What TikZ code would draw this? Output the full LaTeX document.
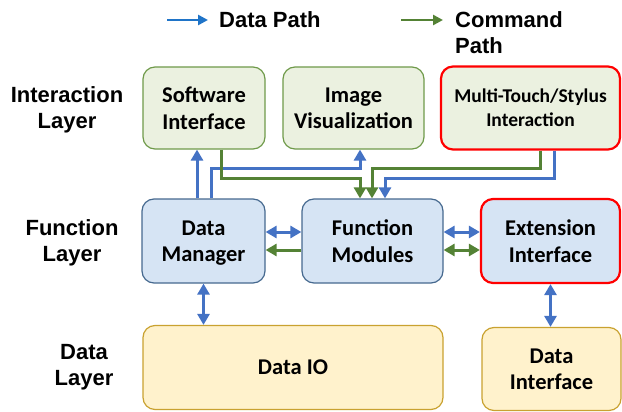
\documentclass[tikz,border=0pt]{standalone}
\usepackage{fontspec}
\setmainfont{Carlito}
\newfontfamily\arialfont{Liberation Sans}
\usetikzlibrary{arrows.meta,calc}
\definecolor{dataline}{HTML}{4472C4}
\definecolor{legblue}{HTML}{1F74C8}
\definecolor{cmdline}{HTML}{548235}
\definecolor{gfill}{HTML}{EBF1E0}
\definecolor{gdraw}{HTML}{6F9A4A}
\definecolor{bfill}{HTML}{D6E4F4}
\definecolor{bdraw}{HTML}{46698F}
\definecolor{yfill}{HTML}{FFF2CC}
\definecolor{ydraw}{HTML}{C9A230}
\definecolor{redb}{HTML}{FF0000}
\tikzset{
  box/.style={draw, rounded corners=12pt, line width=1.2pt, align=center,
    inner sep=0pt, text depth=-2pt, font=\fontsize{22.5}{26.5}\selectfont\bfseries},
  gbox/.style={box, fill=gfill, draw=gdraw},
  bbox/.style={box, fill=bfill, draw=bdraw},
  ybox/.style={box, fill=yfill, draw=ydraw},
  redbox/.style={draw=redb, line width=2.2pt},
  tip/.tip={Triangle[length=11pt,width=12pt]},
  dpath/.style={draw=dataline, line width=3pt, -tip},
  dpath2/.style={draw=dataline, line width=3pt, tip-tip},
  cpath/.style={draw=cmdline, line width=3pt, -tip},
  cpath2/.style={draw=cmdline, line width=3pt, tip-tip},
  layer/.style={font=\arialfont\fontsize{22}{26.5}\selectfont\bfseries, align=center},
  legtext/.style={font=\arialfont\fontsize{22}{26.5}\selectfont\bfseries, align=left},
}
\begin{document}
\begin{tikzpicture}[x=1pt,y=-1pt]
\useasboundingbox (0,0) rectangle (622,412);
% legend
\coordinate (l1a) at (167,20);
\coordinate (l1b) at (208,20);
\coordinate (l2a) at (401,20);
\coordinate (l2b) at (443,20);
\draw[draw=legblue, line width=2.6pt, -{Triangle[length=10pt,width=10pt]}] (l1a) -- (l1b);
\draw[draw=cmdline, line width=2.6pt, -{Triangle[length=10pt,width=10pt]}] (l2a) -- (l2b);
\node[legtext, anchor=west, inner sep=0pt] (ldata) at (219,20) {Data Path};
\node[legtext, anchor=north west, inner sep=0pt] (lcmd) at (455,11) {Command\\Path};
% layer labels
\node[layer] (lint) at (67,110) {Interaction\\Layer};
\node[layer] (lfun) at (72,243) {Function\\Layer};
\node[layer] (ldat) at (84,367) {Data\\Layer};
% boxes
\node[gbox, minimum width=122pt, minimum height=82pt] (SI) at (204,108) {Software\\Interface};
\node[gbox, minimum width=141pt, minimum height=82pt] (IV) at (353.5,108) {Image\\Visualization};
\node[gbox, redbox, minimum width=179pt, minimum height=83pt, font=\fontsize{19.5}{24}\selectfont\bfseries] (MT) at (530.5,108) {Multi-Touch/Stylus\\Interaction};
\node[bbox, minimum width=123pt, minimum height=84pt] (DM) at (203.5,241) {Data\\Manager};
\node[bbox, minimum width=141pt, minimum height=84pt] (FM) at (372.5,241) {Function\\Modules};
\node[bbox, redbox, minimum width=139pt, minimum height=84pt] (EI) at (550.5,241) {Extension\\Interface};
\node[ybox, minimum width=300pt, minimum height=84pt] (DIO) at (293,367.5) {Data IO};
\node[ybox, minimum width=139pt, minimum height=83pt] (DIF) at (551.5,369) {Data\\Interface};
% vertical connectors top
\draw[dpath] ([xshift=-6.5pt]DM.north) -- ([xshift=-6.5pt]DM.north |- SI.south);
\draw[dpath] ([xshift=7.5pt]DM.north) -- ([xshift=7.5pt]DM.north |- 0,168) -| ([xshift=6.5pt]IV.south);
\draw[cpath] ([xshift=17pt]SI.south) -- ([xshift=17pt]SI.south |- 0,178) -| ([xshift=-12.5pt]FM.north);
\draw[cpath] ([xshift=10pt]MT.south) -- ([xshift=10pt]MT.south |- 0,168) -| ([xshift=-0.5pt]FM.north);
\draw[dpath] ([xshift=24pt]MT.south) -- ([xshift=24pt]MT.south |- 0,178) -| ([xshift=12.5pt]FM.north);
% horizontal connectors
\draw[dpath2] ([yshift=9pt]DM.east) -- ([yshift=9pt]FM.west);
\draw[cpath] ([yshift=-9pt]FM.west) -- ([yshift=-9pt]DM.east);
\draw[dpath2] ([yshift=9pt]FM.east) -- ([yshift=9pt]FM.east -| EI.west);
\draw[cpath2] ([yshift=-9pt]FM.east) -- ([yshift=-9pt]FM.east -| EI.west);
% vertical connectors bottom
\draw[dpath2] (DM.south) -- (DM.south |- DIO.north);
\draw[dpath2] (EI.south) -- (EI.south |- DIF.north);
\end{tikzpicture}
\end{document}
